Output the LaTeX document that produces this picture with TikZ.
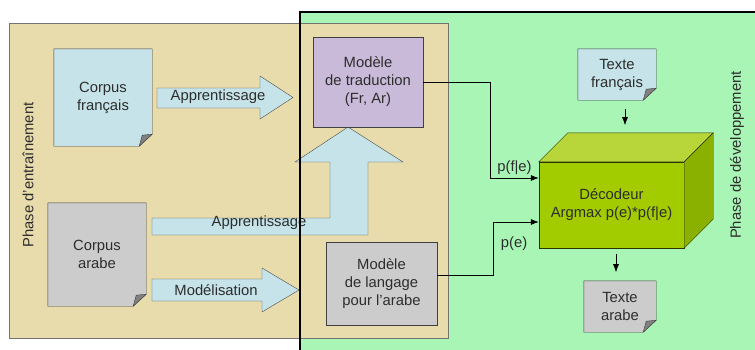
\documentclass[tikz,border=0pt]{standalone}
\usepackage{fontspec}
\setmainfont{Liberation Sans}
\usepackage{tikz}
\usetikzlibrary{shapes}
\usetikzlibrary{calc}
\usetikzlibrary{arrows.meta}
\usepackage{xcolor}
\definecolor{tanbg}{RGB}{232,220,172}
\definecolor{greenbg}{RGB}{168,245,182}
\definecolor{notebl}{RGB}{197,227,232}
\definecolor{notegr}{RGB}{204,204,204}
\definecolor{modpur}{RGB}{200,186,216}
\definecolor{decfront}{RGB}{163,204,0}
\definecolor{dectop}{RGB}{184,214,58}
\definecolor{decside}{RGB}{138,176,0}
\definecolor{txt}{RGB}{45,45,45}
\tikzset{
  note/.style = {rectangle, align=center, text=txt, inner sep=0pt},
  noteline/.style = {draw=black!75, thin},
  fold/.style = {fill=black!50, draw=black!75, thin},
  model/.style = {rectangle, draw=black!75, thin, align=center, text=txt, inner sep=0pt},
  bigarrow/.style = {fill=notebl, draw=black!70, thin},
  conn/.style = {-{Latex[length=8pt,width=6pt]}, black, line width=.7pt},
  phase/.style = {rotate=90, text=txt}
}
\begin{document}
\begin{tikzpicture}[x=1pt, y=-1pt, font=\fontsize{14.8}{18}\selectfont]
\useasboundingbox (0,0) rectangle (755,349);
 \fill[greenbg] (300,12) rectangle (760,355);
 \filldraw[fill=tanbg, draw=black!55, thin] (9,23) rectangle (448,338);
 % block arrows
 \filldraw[bigarrow] (157,88) -- (260,88) -- (260,76) -- (293,97.5) -- (260,119) -- (260,108) -- (157,108) -- cycle;
 \filldraw[bigarrow] (152,279) -- (262,279) -- (262,268) -- (299,290) -- (262,312) -- (262,301) -- (152,301) -- cycle;
 \filldraw[bigarrow] (152,218) -- (330,218) -- (330,162) -- (295,162) -- (348,127) -- (403,162) -- (368,162) -- (368,235) -- (152,235) -- cycle;
\node[text=txt] (app1) at (218,97) {Apprentissage};
\node[text=txt] (app2) at (259,223) {Apprentissage};
\node[text=txt] (modl) at (216,290) {Modélisation};
 % notes
\node[note, minimum width=98pt, minimum height=97pt] (cfr) at (103,97.5) {};
\node[note, minimum width=98pt, minimum height=103pt] (car) at (97,254.5) {};
\node[note, minimum width=78pt, minimum height=51pt] (tfr) at (617,74.5) {};
\node[note, minimum width=72pt, minimum height=51pt] (tar) at (620,306.5) {};
\foreach \n/\c in {cfr/notebl, car/notegr, tfr/notebl, tar/notegr} {
  \filldraw[noteline, fill=\c] (\n.north west) -- (\n.north east) -- ($(\n.south east)+(0,-12)$) -- ($(\n.south east)+(-13,0)$) -- (\n.south west) -- cycle;
  \filldraw[fold] ($(\n.south east)+(-13,0)$) -- ($(\n.south east)+(-10,-11)$) -- ($(\n.south east)+(0,-12)$) -- cycle;
}
\node[note] at (cfr) {Corpus\\français};
\node[note] at (car) {Corpus\\arabe};
\node[note] at (tfr) {Texte\\français};
\node[note] at (tar) {Texte\\arabe};
 % models
\node[model, fill=modpur, minimum width=110pt, minimum height=90pt] (mtr) at (368,82) {Modèle\\de traduction\\(Fr, Ar)};
\node[model, fill=notegr, minimum width=111pt, minimum height=83pt] (mla) at (381.5,283.5) {Modèle\\de langage\\pour l'arabe};
 % decoder
\node[model, fill=decfront, draw=black!70!decside, minimum width=145pt, minimum height=86pt] (dec) at (611.5,205) {Décodeur\\Argmax p(e)*p(f|e)};
 \filldraw[fill=dectop, draw=black!70!decside, thin] (dec.north west) -- ([shift={(29,-29)}]dec.north west) -- ([shift={(29,-29)}]dec.north east) -- (dec.north east) -- cycle;
 \filldraw[fill=decside, draw=black!70!decside, thin] (dec.north east) -- ([shift={(29,-29)}]dec.north east) -- ([shift={(29,-29)}]dec.south east) -- (dec.south east) -- cycle;
 % connectors
 \draw[conn] (mtr.east) -- ++(67,0) |- ([yshift=27pt]dec.west) node[pos=.75, above, text=txt] {p(f|e)};
 \draw[conn] ([yshift=8.5pt]mla.east) -- ++(56,0) |- ([yshift=-17pt]dec.west) node[pos=.5, below right, text=txt, xshift=4pt, yshift=-11pt] {p(e)};
 \draw[conn] ([xshift=8pt, yshift=-9pt]tfr.south) -- ++(0,16);
 \draw[conn] ([xshift=4.5pt, yshift=-6pt]dec.south) -- ++(0,18);
 % phases
\node[phase] (pent) at (28,175) {Phase d'entraînement};
\node[phase] (pdev) at (737,155) {Phase de développement};
 \draw[line width=2pt, black] (300,355) -- (300,12) -- (760,12);
 \end{tikzpicture}
\end{document}
